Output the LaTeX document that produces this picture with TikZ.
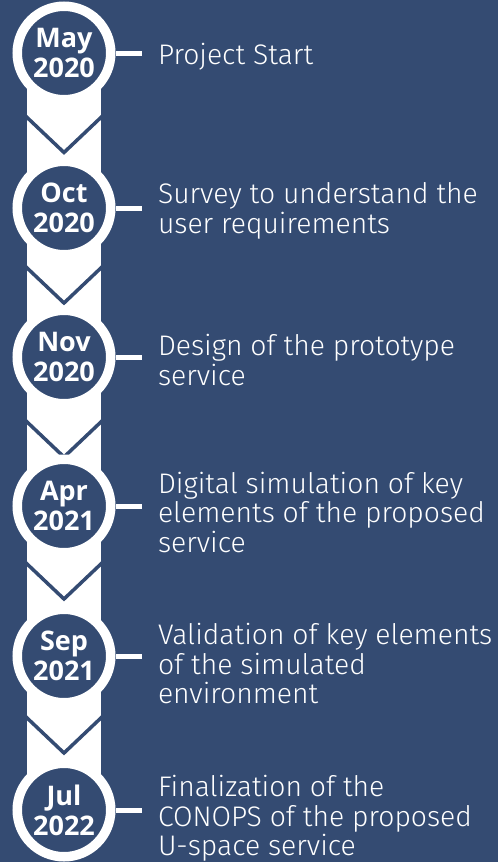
\documentclass[tikz,border=0pt]{standalone}
\usepackage{fontspec}
\setmainfont{Fira Sans}[UprightFont=* Light]
\newfontfamily\datefont{Open Sans}
\definecolor{bgblue}{RGB}{52,75,114}

\tikzset{
  datering/.style={circle, draw=white, fill=bgblue, line width=9.5pt, minimum size=93.5pt,
    inner sep=0pt, text=white, align=center, font=\datefont\bfseries\fontsize{27}{30}\selectfont},
  steptext/.style={anchor=west, text=white, align=left, inner xsep=0pt, inner ysep=0pt,
    outer xsep=16pt, font=\fontsize{28.3}{29.5}\selectfont},
  tick/.style={white, line width=5pt},
  chevron/.style={bgblue, line width=3.5pt}
}

\begin{document}
\begin{tikzpicture}[x=1pt,y=-1pt]
		%background
		\useasboundingbox (0,0) rectangle (498,862);
		\fill[bgblue] (0,0) rectangle (498,862);
		
		%band
		\fill[white] (27,53) rectangle (101,810);
		
		%chevrons
		\draw[chevron] (25,115.5) -- (64,152.5) -- (103,115.5);
		\draw[chevron] (25,266) -- (64,303) -- (103,266);
		\draw[chevron] (25,420) -- (64,457) -- (103,420);
		\draw[chevron] (25,562) -- (64,599) -- (103,562);
		\draw[chevron] (25,716) -- (64,753) -- (103,716);
		
		%dates
		\node[datering] (may20) at (64,53) {May\\2020};
		\node[datering] (oct20) at (64,208) {Oct\\2020};
		\node[datering] (nov20) at (64,357) {Nov\\2020};
		\node[datering] (apr21) at (64,506) {Apr\\2021};
		\node[datering] (sep21) at (64,656) {Sep\\2021};
		\node[datering] (jul22) at (64,810) {Jul\\2022};
		
		%steps
		\node[steptext] (start) at (142,57) {Project Start};
		\node[steptext] (survey) at (142,211) {Survey to understand the\\user requirements};
		\node[steptext] (design) at (142,360) {Design of the prototype\\service};
		\node[steptext] (simul) at (142,512) {Digital simulation of key\\elements of the proposed\\service};
		\node[steptext] (valid) at (142,663.5) {Validation of key elements\\of the simulated\\environment};
		\node[steptext] (final) at (142,818.5) {Finalization of the\\CONOPS of the proposed\\U-space service};
		
		%ticks
		\draw[tick] (may20.east) -- (may20.east -| start.west);
		\draw[tick] (oct20.east) -- (oct20.east -| survey.west);
		\draw[tick] (nov20.east) -- (nov20.east -| design.west);
		\draw[tick] (apr21.east) -- (apr21.east -| simul.west);
		\draw[tick] (sep21.east) -- (sep21.east -| valid.west);
		\draw[tick] (jul22.east) -- (jul22.east -| final.west);
\end{tikzpicture}
\end{document}
